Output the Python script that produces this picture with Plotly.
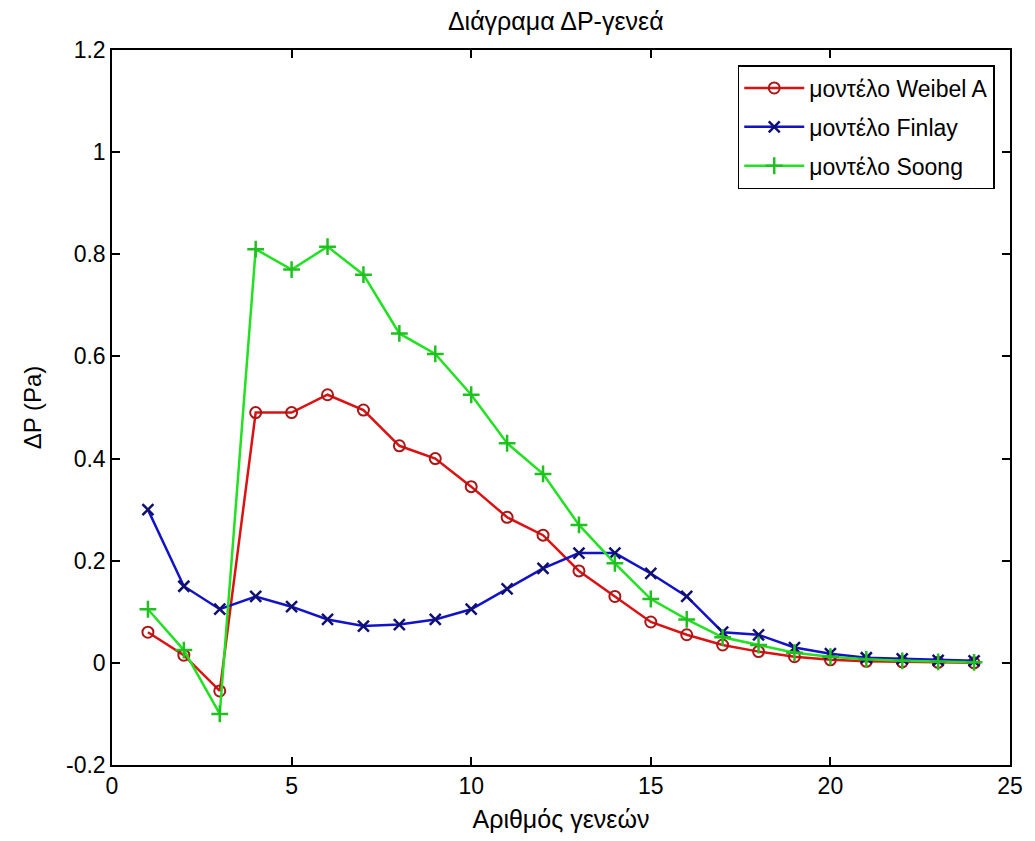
import plotly.graph_objects as go

generations = list(range(1, 25))
weibel = [0.06, 0.015, -0.055, 0.49, 0.49, 0.525, 0.495, 0.425, 0.40, 0.345, 0.285, 0.25,
          0.18, 0.13, 0.08, 0.055, 0.035, 0.022, 0.012, 0.006, 0.003, 0.002, 0.001, 0.0]
finlay = [0.30, 0.15, 0.105, 0.13, 0.11, 0.085, 0.072, 0.075, 0.085, 0.105, 0.145, 0.185,
          0.215, 0.215, 0.175, 0.13, 0.06, 0.055, 0.03, 0.018, 0.01, 0.008, 0.005, 0.004]
soong = [0.105, 0.025, -0.10, 0.81, 0.77, 0.815, 0.76, 0.645, 0.605, 0.525, 0.43, 0.37,
         0.27, 0.195, 0.125, 0.085, 0.05, 0.035, 0.02, 0.012, 0.007, 0.004, 0.002, 0.001]

names = ["μοντέλο Weibel A", "μοντέλο Finlay", "μοντέλο Soong"]
x_ticks = [0, 5, 10, 15, 20, 25]
y_ticks = [-0.2, 0, 0.2, 0.4, 0.6, 0.8, 1, 1.2]
y_tick_text = ["-0.2", "0", "0.2", "0.4", "0.6", "0.8", "1", "1.2"]

FONT = "Liberation Sans, Arial, sans-serif"

fig = go.Figure()
fig.add_trace(go.Scatter(
    x=generations, y=weibel, name=names[0], mode="lines+markers", legendgroup="a",
    line=dict(color="#dc1212", width=2.5),
    marker=dict(symbol="circle-open", size=11, color="#a81818", line=dict(width=2, color="#a81818")),
))
fig.add_trace(go.Scatter(
    x=generations, y=finlay, name=names[1], mode="lines+markers", legendgroup="b",
    line=dict(color="#1212c8", width=2.5),
    marker=dict(symbol="x-thin-open", size=11, color="#101070", line=dict(width=2.5, color="#101070")),
))
fig.add_trace(go.Scatter(
    x=generations, y=soong, name=names[2], mode="lines+markers", legendgroup="c",
    line=dict(color="#22e022", width=2.5),
    marker=dict(symbol="cross-thin-open", size=12, color="#20c020", line=dict(width=2.5, color="#20c020")),
))

fig.update_layout(
    width=1035, height=841,
    paper_bgcolor="white", plot_bgcolor="white",
    margin=dict(l=112, r=18, t=50, b=75),
    font=dict(family=FONT, color="black", size=20),
    title=dict(text="Διάγραμα ΔP-γενεά", x=0.537, xanchor="center", y=0.975, yanchor="middle",
               font=dict(size=25, family=FONT)),
    showlegend=True,
    legend=dict(
        x=0.983, y=0.979, xanchor="right", yanchor="top",
        bgcolor="white", bordercolor="black", borderwidth=1.5,
        font=dict(size=23, family=FONT),
        traceorder="grouped", tracegroupgap=6, itemwidth=60,
    ),
    xaxis=dict(
        range=[0, 25], tickvals=x_ticks, ticktext=[str(v) for v in x_ticks],
        ticks="inside", ticklen=8, tickwidth=1.5, tickcolor="black",
        showline=True, linecolor="black", linewidth=1.5, mirror="ticks",
        showgrid=False, zeroline=False,
        title=dict(text="Αριθμός γενεών", font=dict(size=25), standoff=12),
        tickfont=dict(size=23),
    ),
    yaxis=dict(
        range=[-0.2, 1.2], tickvals=y_ticks, ticktext=y_tick_text,
        ticks="inside", ticklen=8, tickwidth=1.5, tickcolor="black",
        showline=True, linecolor="black", linewidth=1.5, mirror="ticks",
        showgrid=False, zeroline=False,
        title=dict(text="ΔP (Pa)", font=dict(size=24), standoff=18),
        tickfont=dict(size=23),
    ),
)

fig.write_html("out.html")
